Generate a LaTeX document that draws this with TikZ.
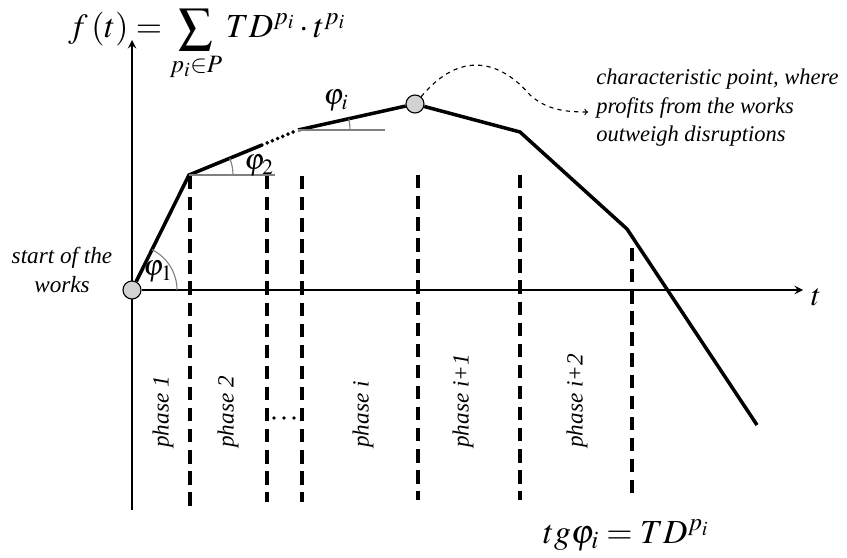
\documentclass[tikz,border=0pt]{standalone}
\usepackage{mathptmx}
\usepackage{fontspec}
\setmainfont{Liberation Serif}
\usepackage{tikz}
\usetikzlibrary{positioning, calc}

\begin{document}
\begin{tikzpicture}[x=0.025cm, y=-0.025cm,
    curveline/.style={line width=2.5pt, line join=miter},
    axisline/.style={line width=1.6pt, -stealth},
    phasesep/.style={line width=2.5pt, dash pattern=on 9.5pt off 5.5pt},
    refline/.style={gray, line width=0.8pt},
    pointmark/.style={circle, draw=black, line width=0.8pt, fill=gray!35, minimum size=12.8pt, inner sep=0pt},
    note/.style={font=\fontsize{16.5}{21}\selectfont\itshape, inner sep=0pt},
    anglbl/.style={font=\fontsize{21}{21}\selectfont, inner sep=0pt},
    phaselbl/.style={note, rotate=90, anchor=west},
    bigmath/.style={font=\fontsize{24}{24}\selectfont, inner sep=0pt, anchor=base west}]
  \useasboundingbox (0,0) rectangle (847,558);
  %% Axes
  \coordinate (ytop) at (132,40);
  \coordinate (ybot) at (132,510);
  \coordinate (xtip) at (803,290);
  \draw[axisline] (ybot) -- (ytop);
  \node[pointmark] (start) at (132,290) {};
  \draw[axisline] (start) -- (xtip);
  \node[font=\fontsize{22}{22}\selectfont, inner sep=0pt] (tlbl) at (816,297) {$t$};
  %% Phase boundaries
  \foreach \px/\ptop/\pbot in {190/176/510, 267/176/502, 302/176/502, 418/175/500, 520/175/500, 632/248/497}
    \draw[phasesep] (\px,\ptop) -- (\px,\pbot);
  \foreach \dx in {274,284,294}
    \fill (\dx,418) circle[radius=1.9];
  %% Break points of f(t)
  \coordinate (kA) at (189,175);
  \coordinate (kB) at (262,145);
  \coordinate (kC) at (298,130);
  \node[pointmark] (charpt) at (415,104) {};
  \coordinate (kE) at (520,132);
  \coordinate (kF) at (627,229);
  \coordinate (kG) at (757,425);
  \draw[curveline] (start) -- (kA) -- (kB);
  \draw[line width=2.8pt, line cap=round, dash pattern=on 0pt off 4pt] (kB) -- (kC);
  \draw[curveline] (kC) -- (charpt) -- (kE) -- (kF) -- (kG);
  %% Angles
  \draw[refline] (kA) -- ++(86,0);
  \draw[refline] (kC) -- ++(87,0);
  \draw[refline] (start) ++(45,0) arc[start angle=0, end angle=-63.6, radius=45];
  \draw[refline] (kA) ++(44,0) arc[start angle=0, end angle=-22.4, radius=44];
  \draw[refline] (kC) ++(52,0) arc[start angle=0, end angle=-12.5, radius=52];
  \node[anglbl] (phi1) at (158,272) {$\varphi_1$};
  \node[anglbl] (phi2) at (259,166) {$\varphi_2$};
  \node[anglbl] (phii) at (336,101) {$\varphi_i$};
  %% Phase labels
  \node[phaselbl] (ph1) at (163,448) {phase 1};
  \node[phaselbl] (ph2) at (228,448) {phase 2};
  \node[phaselbl] (phi) at (363,448) {phase i};
  \node[phaselbl] (phj) at (463,448) {phase i+1};
  \node[phaselbl] (phk) at (577,448) {phase i+2};
  %% Notes
  \node[note, align=center] (startnote) at (62,270) {start of the\\works};
  \coordinate (calltip) at (588,112);
  \draw[dashed, line width=0.8pt, ->] (charpt.50) .. controls (460,50) and (500,60) .. (530,95)
        .. controls (545,108) and (560,112) .. (calltip);
  \node[note, anchor=north west, align=left, font=\fontsize{16}{20}\selectfont\itshape] (charnote) at (596,69)
        {characteristic point, where\\profits from the works\\outweigh disruptions};
  %% Formulas
  \node[bigmath] (fdef) at (68,38) {$\displaystyle f\left(t\right)=\sum_{p_i\in P}TD^{p_i}\cdot t^{p_i}$};
  \node[bigmath] (tgdef) at (543,543) {$tg\varphi_i = TD^{p_i}$};
\end{tikzpicture}
\end{document}
